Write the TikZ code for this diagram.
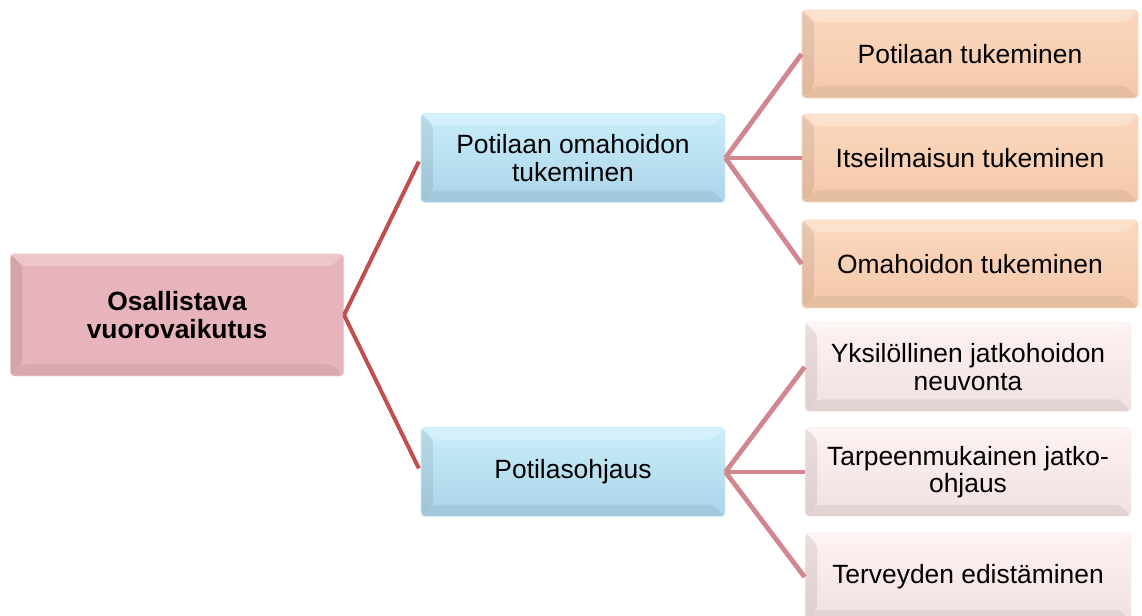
\documentclass[tikz,border=0pt]{standalone}
\usepackage{fontspec}
\setmainfont{Liberation Sans}
\usetikzlibrary{positioning,calc}
\definecolor{rosefill}{HTML}{E6B4BA}
\definecolor{roseedge}{HTML}{F4CACF}
\definecolor{bluetop}{HTML}{C9EEFB}
\definecolor{bluebot}{HTML}{ABD4E8}
\definecolor{peachtop}{HTML}{FBD8BE}
\definecolor{peachbot}{HTML}{F4C8A9}
\definecolor{paletop}{HTML}{FDF2F1}
\definecolor{palebot}{HTML}{F1E0E0}
\definecolor{mainline}{HTML}{C0504D}
\definecolor{subline}{HTML}{D0888E}

\begin{document}
\begin{tikzpicture}[x=0.75pt,y=-0.75pt,
  every node/.style={font=\fontsize{19.8}{20.5}\selectfont,align=center},
  bevel/.style={path picture={
    \coordinate (sw) at (path picture bounding box.south west);
    \coordinate (nw) at (path picture bounding box.north west);
    \coordinate (ne) at (path picture bounding box.north east);
    \coordinate (se) at (path picture bounding box.south east);
    \fill[black,opacity=.08] (sw) -- (nw) -- ($(nw)+(9pt,-9pt)$) -- ($(sw)+(9pt,9pt)$) -- cycle;
    \fill[black,opacity=.06] (sw) -- (se) -- ($(se)+(-9pt,9pt)$) -- ($(sw)+(9pt,9pt)$) -- cycle;
    \fill[white,opacity=.25] (nw) -- (ne) -- ($(ne)+(-9pt,-9pt)$) -- ($(nw)+(9pt,-9pt)$) -- cycle;}},
  box/.style={rounded corners=3pt,line width=0.6pt,inner sep=0pt,bevel},
  rootbox/.style={box,fill=rosefill,draw=roseedge,minimum width=250pt,minimum height=91.5pt,font=\fontsize{19.8}{20.5}\selectfont\bfseries},
  midbox/.style={box,top color=bluetop,bottom color=bluebot,draw=bluetop,minimum width=228pt,minimum height=66.75pt},
  peachbox/.style={box,top color=peachtop,bottom color=peachbot,draw=peachtop,minimum width=252pt,minimum height=66pt},
  palebox/.style={box,top color=paletop,bottom color=palebot,draw=paletop,minimum width=244.5pt,minimum height=66.75pt},
  mainconn/.style={draw=mainline,line width=3pt},
  subconn/.style={draw=subline,line width=3.6pt}]
  \useasboundingbox (0,0) rectangle (1142,616);
  % root
  \node[rootbox] (osal) at (177,315) {Osallistava\\vuorovaikutus};
  % second level
  \node[midbox] (omah) at (573,158) {Potilaan omahoidon\\tukeminen};
  \node[midbox] (ohj) at (573,472) {Potilasohjaus};
  % leaves, upper group
  \node[peachbox] (pot) at (970,54) {Potilaan tukeminen};
  \node[peachbox] (itse) at (970,158) {Itseilmaisun tukeminen};
  \node[peachbox] (omat) at (970,264) {Omahoidon tukeminen};
  % leaves, lower group
  \node[palebox] (yks) at (968,367) {Yksilöllinen jatkohoidon\\neuvonta};
  \node[palebox] (tarp) at (968,472) {Tarpeenmukainen jatko-\\ohjaus};
  \node[palebox] (terv) at (968,577) {Terveyden edistäminen};
  % connectors
  \draw[mainconn,shorten >=3pt] (osal.east) -- (omah.west);
  \draw[mainconn,shorten >=3pt] (osal.east) -- (ohj.west);
  \foreach \leaf in {pot,itse,omat}
    \draw[subconn] (omah.east) -- (\leaf.west);
  \foreach \leaf in {yks,tarp,terv}
    \draw[subconn] (ohj.east) -- (\leaf.west);
\end{tikzpicture}
\end{document}
